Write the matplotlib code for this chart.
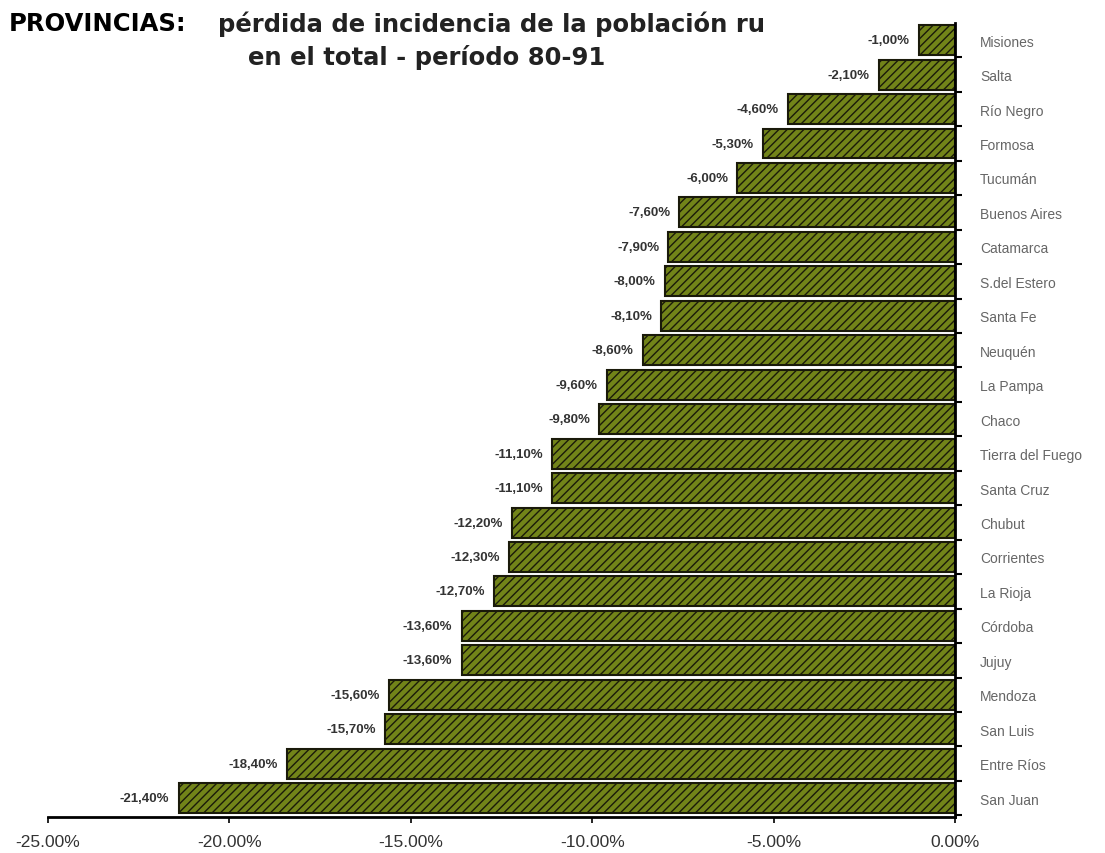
import numpy as np
import matplotlib
matplotlib.use("Agg")
import matplotlib.pyplot as plt

plt.rcParams['font.family'] = ['Liberation Sans', 'DejaVu Sans']
plt.rcParams['hatch.linewidth'] = 1.0

provincias = ['Misiones', 'Salta', 'Río Negro', 'Formosa', 'Tucumán', 'Buenos Aires',
              'Catamarca', 'S.del Estero', 'Santa Fe', 'Neuquén', 'La Pampa', 'Chaco',
              'Tierra del Fuego', 'Santa Cruz', 'Chubut', 'Corrientes', 'La Rioja',
              'Córdoba', 'Jujuy', 'Mendoza', 'San Luis', 'Entre Ríos', 'San Juan']
perdida = [-1.00, -2.10, -4.60, -5.30, -6.00, -7.60, -7.90, -8.00, -8.10, -8.60,
           -9.60, -9.80, -11.10, -11.10, -12.20, -12.30, -12.70, -13.60, -13.60,
           -15.60, -15.70, -18.40, -21.40]
xticks = [-25, -20, -15, -10, -5, 0]

fig = plt.figure(figsize=(11.05, 8.54), dpi=100)
ax = fig.add_axes([0.0434, 0.042, 0.8208, 0.93])

y = np.arange(len(provincias))[::-1]
ax.barh(y, perdida, height=0.87, color='#728419', edgecolor='#1a1a0a',
        hatch='////', linewidth=1.5, zorder=2)

for yi, v in zip(y, perdida):
    ax.text(v - 0.25, yi, ('%.2f%%' % v).replace('.', ','), ha='right', va='center',
            fontsize=9.5, fontweight='bold', color='#333333')

ax.set_xlim(-25, 0)
ax.set_ylim(-0.55, len(provincias) - 0.5)
ax.set_xticks(xticks)
ax.set_xticklabels(['%.2f%%' % t for t in xticks], fontsize=12.5, color='#333333')
ax.tick_params(axis='x', length=4, width=1.2, pad=8)

ax.yaxis.tick_right()
ax.set_yticks(y)
ax.set_yticklabels(provincias, fontsize=10, color='#666666')
ax.tick_params(axis='y', which='major', length=0, pad=18)
ax.set_yticks(np.arange(len(provincias)) - 0.5, minor=True)
ax.tick_params(axis='y', which='minor', length=5, width=1.5, direction='out')

ax.spines['left'].set_visible(False)
ax.spines['top'].set_visible(False)
ax.spines['right'].set_linewidth(2)
ax.spines['bottom'].set_linewidth(2)

fig.text(0.008, 0.972, 'PROVINCIAS:', fontsize=17.5, fontweight='bold', va='center',
         family='DejaVu Sans')
fig.text(0.197, 0.972, 'pérdida de incidencia de la población ru', fontsize=17.5,
         fontweight='bold', va='center', color='#222222', family='DejaVu Sans', zorder=0)
fig.text(0.386, 0.933, 'en el total - período 80-91', fontsize=17.5, fontweight='bold',
         va='center', ha='center', color='#222222', family='DejaVu Sans')

fig.savefig('out.png', dpi=100)
